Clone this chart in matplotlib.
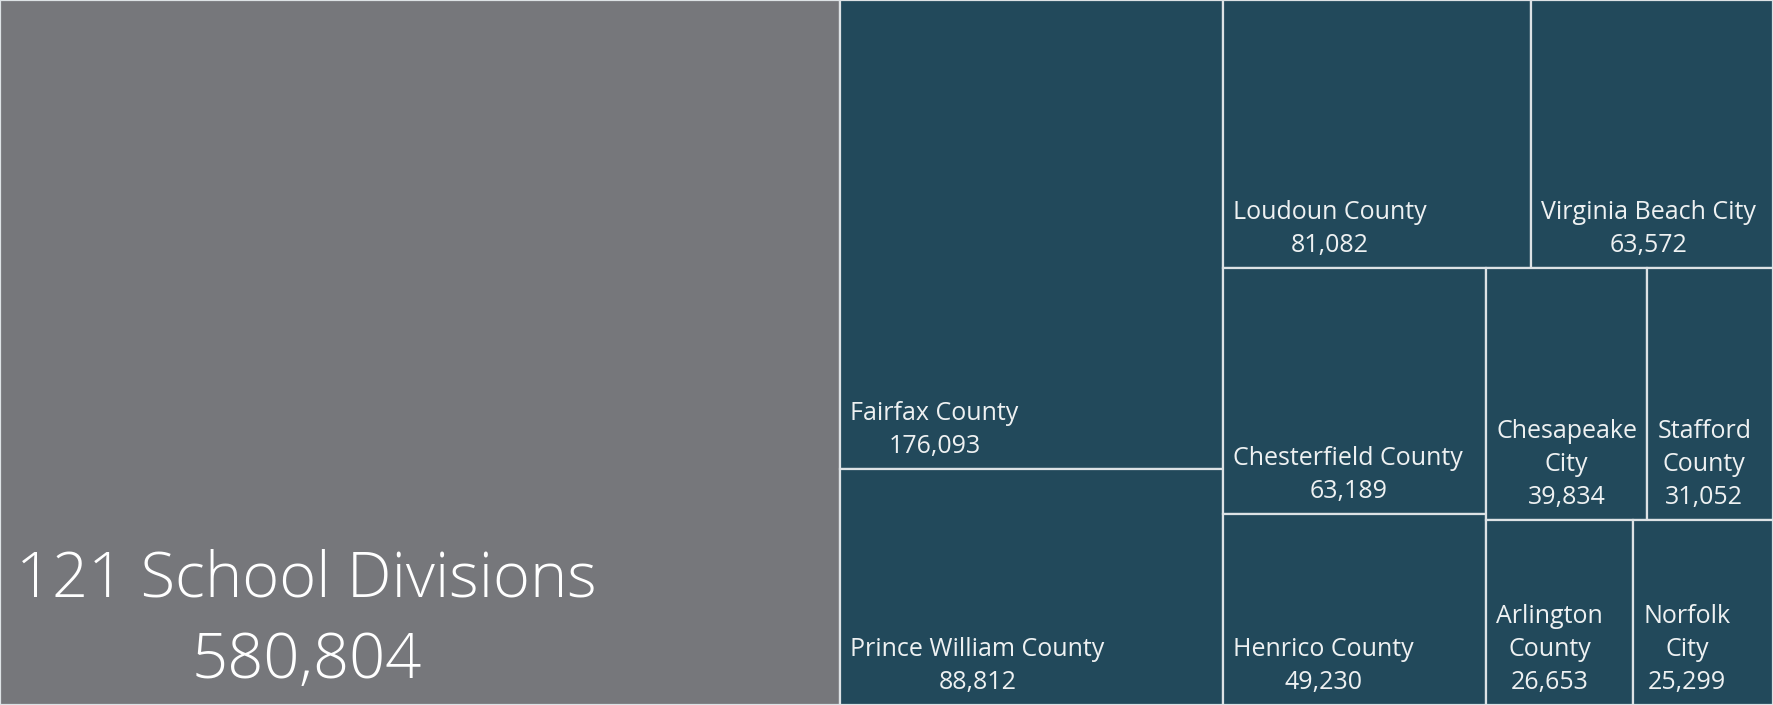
import matplotlib
matplotlib.use("Agg")
import matplotlib.pyplot as plt
from matplotlib.patches import Rectangle

# dati: iscrizioni per divisione scolastica
names = ["121 School Divisions", "Fairfax County", "Prince William County",
         "Loudoun County", "Virginia Beach City", "Chesterfield County",
         "Henrico County", "Chesapeake City", "Stafford County",
         "Arlington County", "Norfolk City"]
values = [580804, 176093, 88812, 81082, 63572, 63189, 49230, 39834, 31052, 26653, 25299]
colors = ["#76777b"] + ["#22495b"] * 10

W, H = 1773, 705


def squarify(vals, x, y, w, h):
    total = sum(vals)
    areas = [v * w * h / total for v in vals]

    def worst(row, side):
        s = sum(row)
        return max(max(side * side * r / (s * s), s * s / (side * side * r)) for r in row)

    rects = []
    i = 0
    while i < len(areas):
        side = min(w, h)
        row = [areas[i]]
        i += 1
        while i < len(areas) and worst(row + [areas[i]], side) <= worst(row, side):
            row.append(areas[i])
            i += 1
        s = sum(row)
        if w >= h:
            cw = s / h
            yy = y
            for a in row:
                rects.append((x, yy, cw, a / cw))
                yy += a / cw
            x += cw
            w -= cw
        else:
            rh = s / w
            xx = x
            for a in row:
                rects.append((xx, y, a / rh, rh))
                xx += a / rh
            y += rh
            h -= rh
    return rects


rects = squarify(values, 0, 0, W, H)

fig = plt.figure(figsize=(W / 100, H / 100), dpi=100)
ax = fig.add_axes([0, 0, 1, 1])
ax.set_xlim(0, W)
ax.set_ylim(H, 0)
ax.axis("off")
renderer = fig.canvas.get_renderer()

for k, (rx, ry, rw, rh) in enumerate(rects):
    ax.add_patch(Rectangle((rx, ry), rw, rh, facecolor=colors[k],
                           edgecolor="#dde2e5", linewidth=1.6))
    if k == 0:
        ax.text(rx + 16, ry + rh - 12, f"{names[k]}\n{values[k]:,}",
                ha="left", va="bottom", multialignment="center",
                color="white", fontsize=45.5, fontfamily="Open Sans",
                fontweight="light", linespacing=1.38)
        continue
    label = names[k]
    t = ax.text(rx + 10, ry + rh - 10, f"{label}\n{values[k]:,}",
                ha="left", va="bottom", multialignment="center",
                color="#eef1f2", fontsize=18, fontfamily="Open Sans",
                linespacing=1.42)
    if t.get_window_extent(renderer).width > rw - 16:
        t.set_text(f"{label.replace(' ', chr(10), 1)}\n{values[k]:,}")

fig.savefig("out.png", dpi=100)
